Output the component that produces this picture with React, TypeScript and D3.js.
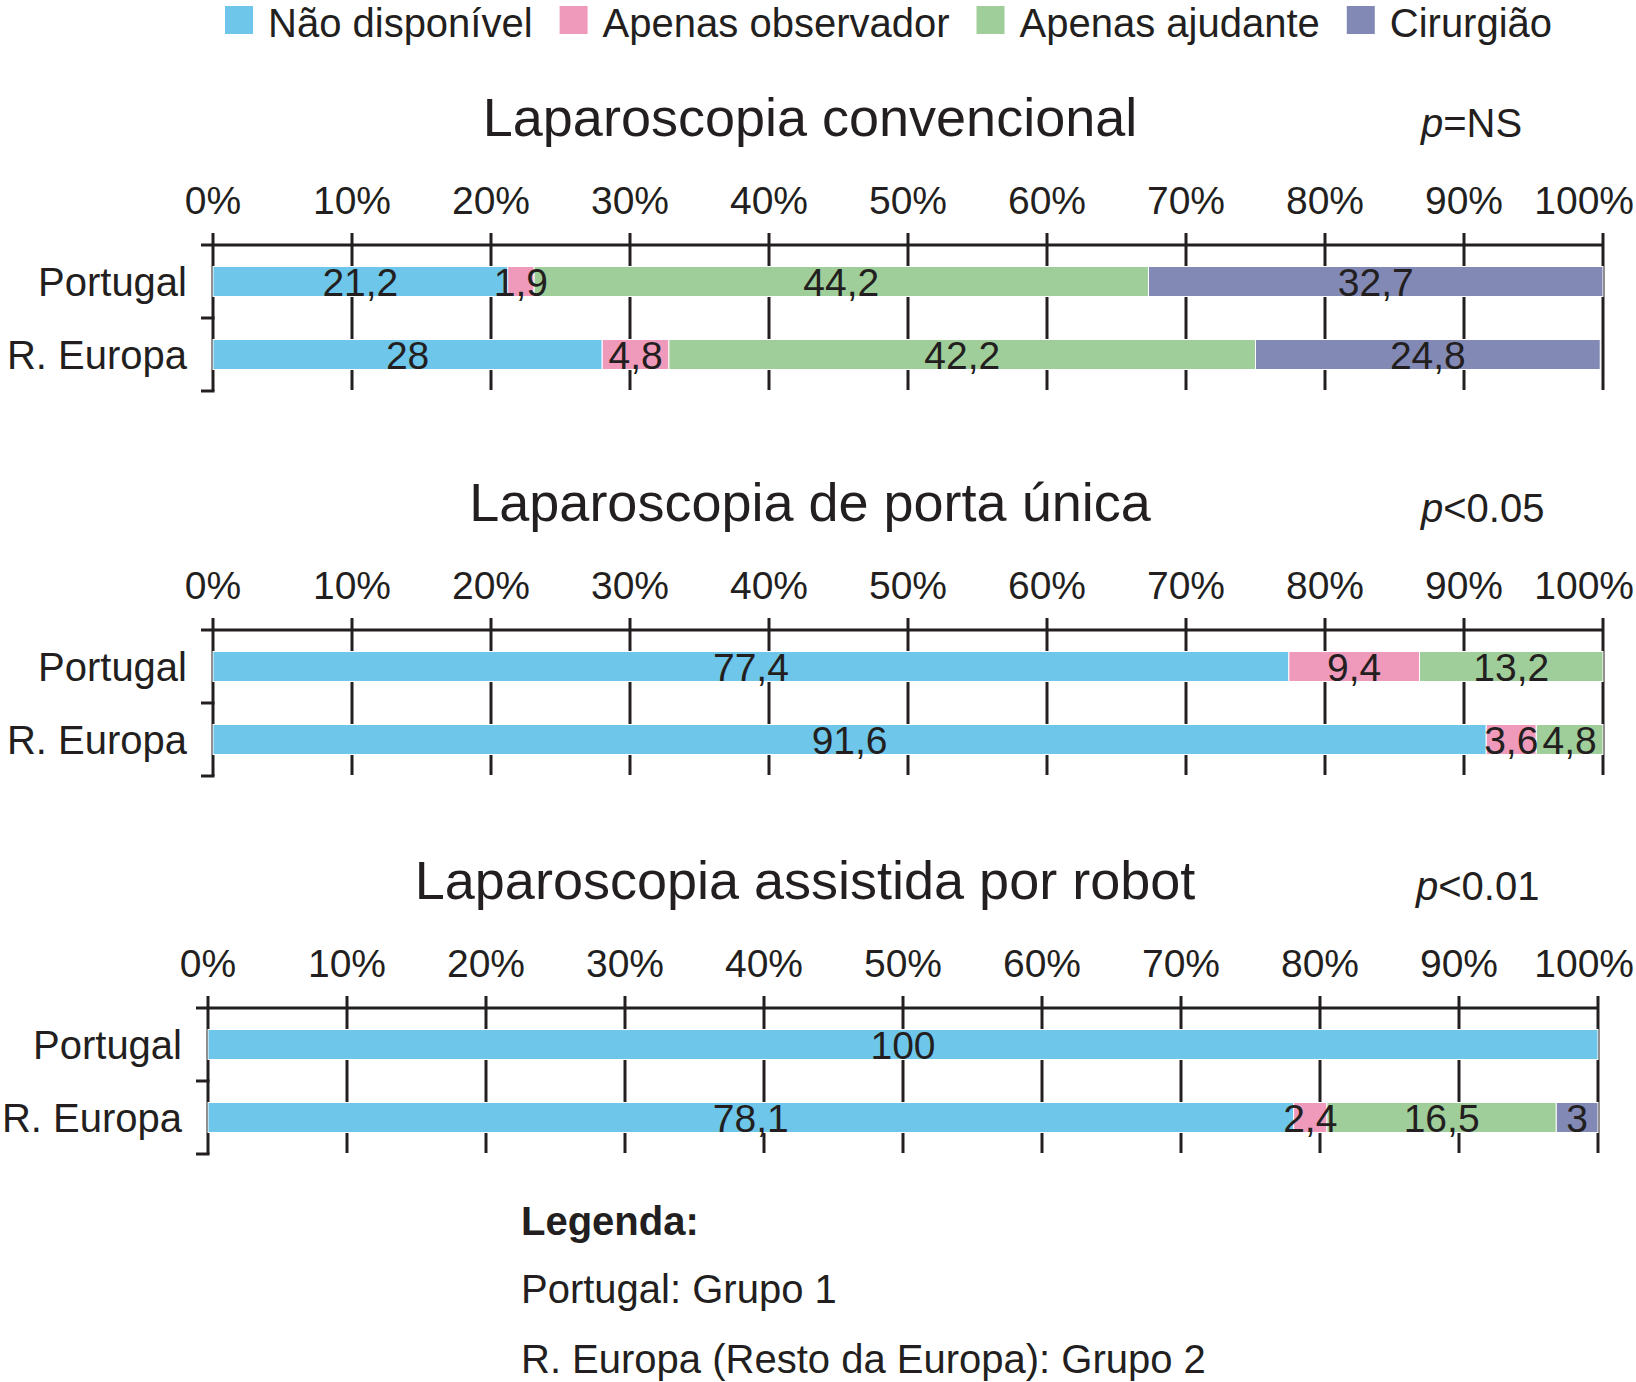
import * as d3 from 'd3';
import React, { useEffect, useRef } from 'react';

const categories = ['Portugal', 'R. Europa'];
const seriesNames = ['Não disponível', 'Apenas observador', 'Apenas ajudante', 'Cirurgião'];
const seriesColors = ['#6ec6ea', '#f09abb', '#a0ce9a', '#8289b5'];
const tickValues = [0, 10, 20, 30, 40, 50, 60, 70, 80, 90, 100];

const panelTitles = ['Laparoscopia convencional', 'Laparoscopia de porta única', 'Laparoscopia assistida por robot'];
const pValues = ['=NS', '<0.05', '<0.01'];

// values per category, in series order
const convencional = [[21.2, 1.9, 44.2, 32.7], [28, 4.8, 42.2, 24.8]];
const portaUnica = [[77.4, 9.4, 13.2, 0], [91.6, 3.6, 4.8, 0]];
const robot = [[100, 0, 0, 0], [78.1, 2.4, 16.5, 3]];
const panelValues = [convencional, portaUnica, robot];

const notes = ['Portugal: Grupo 1', 'R. Europa (Resto da Europa): Grupo 2'];

const W = 1636;
const H = 1382;
const FONT = '"Liberation Sans", Arial, Helvetica, sans-serif';
const INK = '#231f20';

export default function App() {
  const ref = useRef<SVGSVGElement>(null);

  useEffect(() => {
    const svg = d3.select(ref.current);
    svg.selectAll('*').remove();

    // top legend
    const leg = svg.append('g');
    let lx = 225;
    seriesNames.forEach((name, i) => {
      leg.append('rect').attr('x', lx).attr('y', 6).attr('width', 28).attr('height', 28).attr('fill', seriesColors[i]);
      const t = leg.append('text')
        .attr('x', lx + 43).attr('y', 37)
        .attr('font-size', 40).attr('fill', INK)
        .text(name);
      const w = (t.node() as SVGTextElement).getComputedTextLength();
      lx = lx + 43 + w + 27;
    });

    const axisYs = [245, 630, 1008];
    const x0s = [213, 213, 208];

    panelValues.forEach((vals, pi) => {
      const ay = axisYs[pi];
      const x0 = x0s[pi];
      const x = d3.scaleLinear().domain([0, 100]).range([x0, x0 + 1390]);
      const y = d3.scaleBand().domain(categories).range([ay, ay + 146]);
      const g = svg.append('g');

      g.append('text')
        .attr('x', x0 + 597).attr('y', ay - 109)
        .attr('text-anchor', 'middle').attr('font-size', 54).attr('fill', INK)
        .text(panelTitles[pi]);

      const pt = g.append('text')
        .attr('x', x0 + 1208).attr('y', ay - 108)
        .attr('font-size', 40).attr('fill', INK);
      pt.append('tspan').attr('font-style', 'italic').text('p');
      pt.append('tspan').text(pValues[pi]);

      // tick labels (the last one kept inside the page)
      g.selectAll('.tl').data(tickValues).enter().append('text')
        .attr('x', d => (d === 100 ? W - 2 : x(d))).attr('y', ay - 31)
        .attr('text-anchor', d => (d === 100 ? 'end' : 'middle'))
        .attr('font-size', 39).attr('fill', INK)
        .text(d => d + '%');

      // grid ticks
      g.selectAll('.tk').data(tickValues).enter().append('line')
        .attr('x1', d => x(d)).attr('x2', d => x(d))
        .attr('y1', ay - 12).attr('y2', d => (d === 0 ? ay + 146 : ay + 145))
        .attr('stroke', INK).attr('stroke-width', 3);

      g.append('line')
        .attr('x1', x0 - 12).attr('x2', x(100))
        .attr('y1', ay).attr('y2', ay)
        .attr('stroke', INK).attr('stroke-width', 3);

      // category bracket ticks
      [ay + y.step(), ay + 2 * y.step()].forEach(yy => {
        g.append('line')
          .attr('x1', x0 - 12).attr('x2', x0 + 1.5)
          .attr('y1', yy).attr('y2', yy)
          .attr('stroke', INK).attr('stroke-width', 3);
      });

      const rows = categories.map((c, ci) => {
        const r: any = { cat: c };
        seriesNames.forEach((s, si) => { r[s] = vals[ci][si]; });
        return r;
      });
      const stacked = d3.stack().keys(seriesNames)(rows);
      const barH = 30;

      stacked.forEach((layer, si) => {
        layer.forEach((seg: any) => {
          const v = seg[1] - seg[0];
          if (v <= 0) return;
          const cy = (y(seg.data.cat) as number) + y.bandwidth() / 2;
          g.append('rect')
            .attr('x', x(seg[0])).attr('width', x(seg[1]) - x(seg[0]))
            .attr('y', cy - barH / 2).attr('height', barH)
            .attr('fill', seriesColors[si])
            .attr('stroke', '#fff').attr('stroke-width', 1);
        });
      });

      stacked.forEach(layer => {
        layer.forEach((seg: any) => {
          const v = seg[1] - seg[0];
          if (v <= 0) return;
          const cy = (y(seg.data.cat) as number) + y.bandwidth() / 2;
          g.append('text')
            .attr('x', x((seg[0] + seg[1]) / 2)).attr('y', cy + 14)
            .attr('text-anchor', 'middle').attr('font-size', 39).attr('fill', INK)
            .text(String(Math.round(v * 10) / 10).replace('.', ','));
        });
      });

      g.selectAll('.cl').data(categories).enter().append('text')
        .attr('x', x0 - 26)
        .attr('y', d => (y(d) as number) + y.bandwidth() / 2 + 14)
        .attr('text-anchor', 'end').attr('font-size', 40).attr('fill', INK)
        .text(d => d);
    });

    const foot = svg.append('g');
    foot.append('text')
      .attr('x', 521).attr('y', 1235)
      .attr('font-size', 40).attr('font-weight', 'bold').attr('fill', INK)
      .text('Legenda:');
    notes.forEach((n, i) => {
      foot.append('text')
        .attr('x', 521).attr('y', 1303 + i * 70)
        .attr('font-size', 40).attr('fill', INK)
        .text(n);
    });
  }, []);

  return (
    <svg
      ref={ref}
      width={W}
      height={H}
      style={{ position: 'absolute', left: 0, top: 0, background: '#fff', fontFamily: FONT }}
    />
  );
}
